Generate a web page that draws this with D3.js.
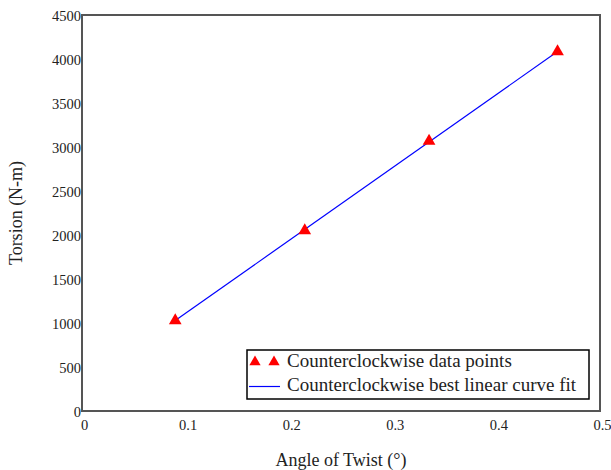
<!DOCTYPE html>
<html>
<head>
<meta charset="utf-8">
<script src="https://d3js.org/d3.v7.min.js"></script>
<style>
  body { margin: 0; background: #fff; }
  svg text { font-family: "Liberation Serif", "Times New Roman", Times, "DejaVu Serif", serif; fill: #222; }
</style>
</head>
<body>
<script>
    // measured points (angle in degrees, torque in N-m)
    const angles = [0.090, 0.215, 0.335, 0.459];
    const torques = [1028, 2050, 3068, 4085];

    // best fit line end points
    const fitAngles = [0.090, 0.459];
    const fitTorques = [1028, 4085];

    const xTicks = [0, 0.1, 0.2, 0.3, 0.4, 0.5];
    const yTicks = [0, 500, 1000, 1500, 2000, 2500, 3000, 3500, 4000, 4500];

    const legendLabels = ["Counterclockwise data points", "Counterclockwise best linear curve fit"];

    const width = 611;
    const height = 470;
    const plotLeft = 82, plotRight = 600, plotTop = 15, plotBottom = 411;
    const serif = "'Liberation Serif', 'Times New Roman', Times, 'DejaVu Serif', serif";

    const xScale = d3.scaleLinear().domain([0, 0.5]).range([plotLeft, plotRight]);
    const yScale = d3.scaleLinear().domain([0, 4500]).range([plotBottom, plotTop]);

    const svg = d3.select("body")
        .append("svg")
        .attr("width", width)
        .attr("height", height)
        .attr("font-family", serif);

    // frame
    svg.append("rect")
        .attr("x", plotLeft)
        .attr("y", plotTop)
        .attr("width", plotRight - plotLeft)
        .attr("height", plotBottom - plotTop)
        .attr("fill", "none")
        .attr("stroke", "#555")
        .attr("stroke-width", 2);

    // x axis labels (no tick marks)
    const xAxis = d3.axisBottom(xScale)
        .tickValues(xTicks)
        .tickSize(0)
        .tickPadding(9)
        .tickFormat(d => String(d));

    const gx = svg.append("g")
        .attr("transform", "translate(2," + plotBottom + ")")
        .call(xAxis)
        .attr("font-family", serif)
        .attr("font-size", 14.5);
    gx.select(".domain").remove();
    gx.selectAll("text").attr("fill", "#222");

    const yAxis = d3.axisLeft(yScale)
        .tickValues(yTicks)
        .tickSize(0)
        .tickPadding(1)
        .tickFormat(d => String(d));

    const gy = svg.append("g")
        .attr("transform", "translate(" + plotLeft + ",1)")
        .call(yAxis)
        .attr("font-family", serif)
        .attr("font-size", 14.5);
    gy.select(".domain").remove();
    gy.selectAll("text").attr("fill", "#222");

    // fit line
    svg.append("path")
        .datum(fitAngles.map((a, i) => [a, fitTorques[i]]))
        .attr("fill", "none")
        .attr("stroke", "#0000ff")
        .attr("stroke-width", 1.2)
        .attr("d", d3.line().x(d => xScale(d[0])).y(d => yScale(d[1])));

    // data points
    const tri = d3.symbol().type(d3.symbolTriangle).size(70);
    svg.selectAll(".pt")
        .data(angles.map((a, i) => [a, torques[i]]))
        .enter()
        .append("path")
        .attr("class", "pt")
        .attr("d", tri)
        .attr("fill", "#ff0000")
        .attr("transform", d => "translate(" + xScale(d[0]) + "," + yScale(d[1]) + ")");

    // axis titles
    svg.append("text")
        .attr("x", 341)
        .attr("y", 466)
        .attr("text-anchor", "middle")
        .attr("font-size", 18)
        .text("Angle of Twist (\u00b0)");

    svg.append("text")
        .attr("transform", "translate(22,213) rotate(-90)")
        .attr("text-anchor", "middle")
        .attr("font-size", 18)
        .text("Torsion (N-m)");

    // legend
    const legend = svg.append("g");
    legend.append("rect")
        .attr("x", 247)
        .attr("y", 350)
        .attr("width", 342)
        .attr("height", 49)
        .attr("fill", "#fff")
        .attr("stroke", "#000")
        .attr("stroke-width", 1.5);

    const legTri = d3.symbol().type(d3.symbolTriangle).size(55);
    [255, 274].forEach(x => {
        legend.append("path")
            .attr("d", legTri)
            .attr("fill", "#ff0000")
            .attr("transform", "translate(" + x + ",362)");
    });
    legend.append("line")
        .attr("x1", 249).attr("x2", 280)
        .attr("y1", 386.5).attr("y2", 386.5)
        .attr("stroke", "#0000ff")
        .attr("stroke-width", 1.2);

    legend.selectAll(".leg")
        .data(legendLabels)
        .enter()
        .append("text")
        .attr("class", "leg")
        .attr("x", 287)
        .attr("y", (d, i) => 367 + i * 24)
        .attr("font-size", 19)
        .text(d => d);
</script>
</body>
</html>
